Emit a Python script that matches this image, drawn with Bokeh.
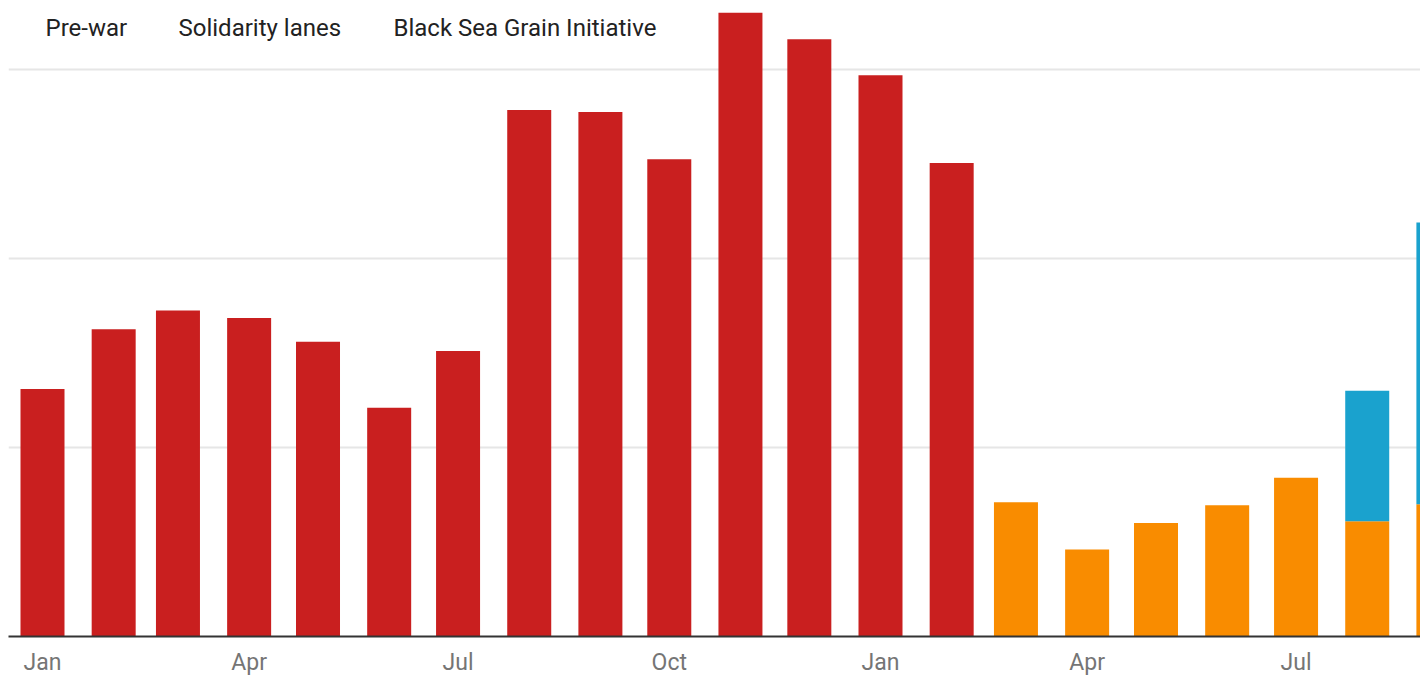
from datetime import datetime, timedelta

from bokeh.embed import file_html
from bokeh.models import (ColumnDataSource, DatetimeTickFormatter, FixedTicker,
                          Label, MonthsTicker, Range1d)
from bokeh.plotting import figure
from bokeh.resources import INLINE

# Monthly grain exports (million tonnes), by export route
months = ["2021-01", "2021-02", "2021-03", "2021-04", "2021-05", "2021-06",
          "2021-07", "2021-08", "2021-09", "2021-10", "2021-11", "2021-12",
          "2022-01", "2022-02", "2022-03", "2022-04", "2022-05", "2022-06",
          "2022-07", "2022-08", "2022-09"]
pre_war = [2.62, 3.25, 3.45, 3.37, 3.12, 2.42, 3.02, 5.57, 5.55, 5.05, 6.60,
           6.32, 5.94, 5.01, 0, 0, 0, 0, 0, 0, 0]
solidarity_lanes = [0, 0, 0, 0, 0, 0, 0, 0, 0, 0, 0, 0, 0, 0,
                    1.42, 0.92, 1.20, 1.39, 1.68, 1.22, 1.40]
black_sea = [0, 0, 0, 0, 0, 0, 0, 0, 0, 0, 0, 0, 0, 0,
             0, 0, 0, 0, 0, 1.38, 2.98]
series_names = ["Pre-war", "Solidarity lanes", "Black Sea Grain Initiative"]
series_colors = ["#c91f1f", "#f98c00", "#1aa2ce"]
grid_values = [2, 4, 6]

dates = [datetime.strptime(m, "%Y-%m") for m in months]
source = ColumnDataSource(dict(month=dates, pre_war=pre_war,
                               solidarity=solidarity_lanes, black_sea=black_sea))

W, H = 1420, 679
LEFT, BOTTOM = 8, 43
PX_PER_DAY = 838 / 365.0
Y_MAX = 6.73

origin = dates[0]


def px_to_date(px):
    return origin + timedelta(days=(px - 42) / PX_PER_DAY)


p = figure(width=W, height=H, x_axis_type="datetime", y_axis_location=None,
           output_backend="svg", toolbar_location=None,
           x_range=Range1d(px_to_date(LEFT), px_to_date(W)),
           y_range=Range1d(0, Y_MAX),
           min_border_left=LEFT, min_border_right=0, min_border_top=0,
           min_border_bottom=BOTTOM)
p.outline_line_color = None
p.background_fill_color = "white"
p.border_fill_color = "white"
p.xgrid.visible = False

grid = p.ygrid[0]
grid.ticker = FixedTicker(ticks=grid_values)
grid.grid_line_color = "#e6e6e6"
grid.grid_line_width = 2

bar_width = timedelta(days=44 / PX_PER_DAY).total_seconds() * 1000
p.vbar_stack(["pre_war", "solidarity", "black_sea"], x="month", width=bar_width,
             color=series_colors, line_color=None, source=source)

ax = p.xaxis[0]
ax.ticker = MonthsTicker(months=[0, 3, 6, 9])
ax.formatter = DatetimeTickFormatter(months="%b", years="%b")
ax.axis_line_color = "#333333"
ax.axis_line_width = 2
ax.major_tick_line_color = None
ax.minor_tick_line_color = None
ax.major_tick_out = 0
ax.minor_tick_out = 0
ax.major_label_standoff = 12
ax.major_label_text_font = "Roboto"
ax.major_label_text_font_size = "23px"
ax.major_label_text_color = "#757575"

# Text-only legend across the top
legend_px = [45, 178, 393]
for name, px in zip(series_names, legend_px):
    p.add_layout(Label(x=px_to_date(px), y=(636 - 28) / 94.5, text=name,
                       text_font="Roboto", text_font_size="24px",
                       text_color="#222222", text_align="left",
                       text_baseline="middle"))

open("out.html", "w").write(file_html(p, INLINE))
